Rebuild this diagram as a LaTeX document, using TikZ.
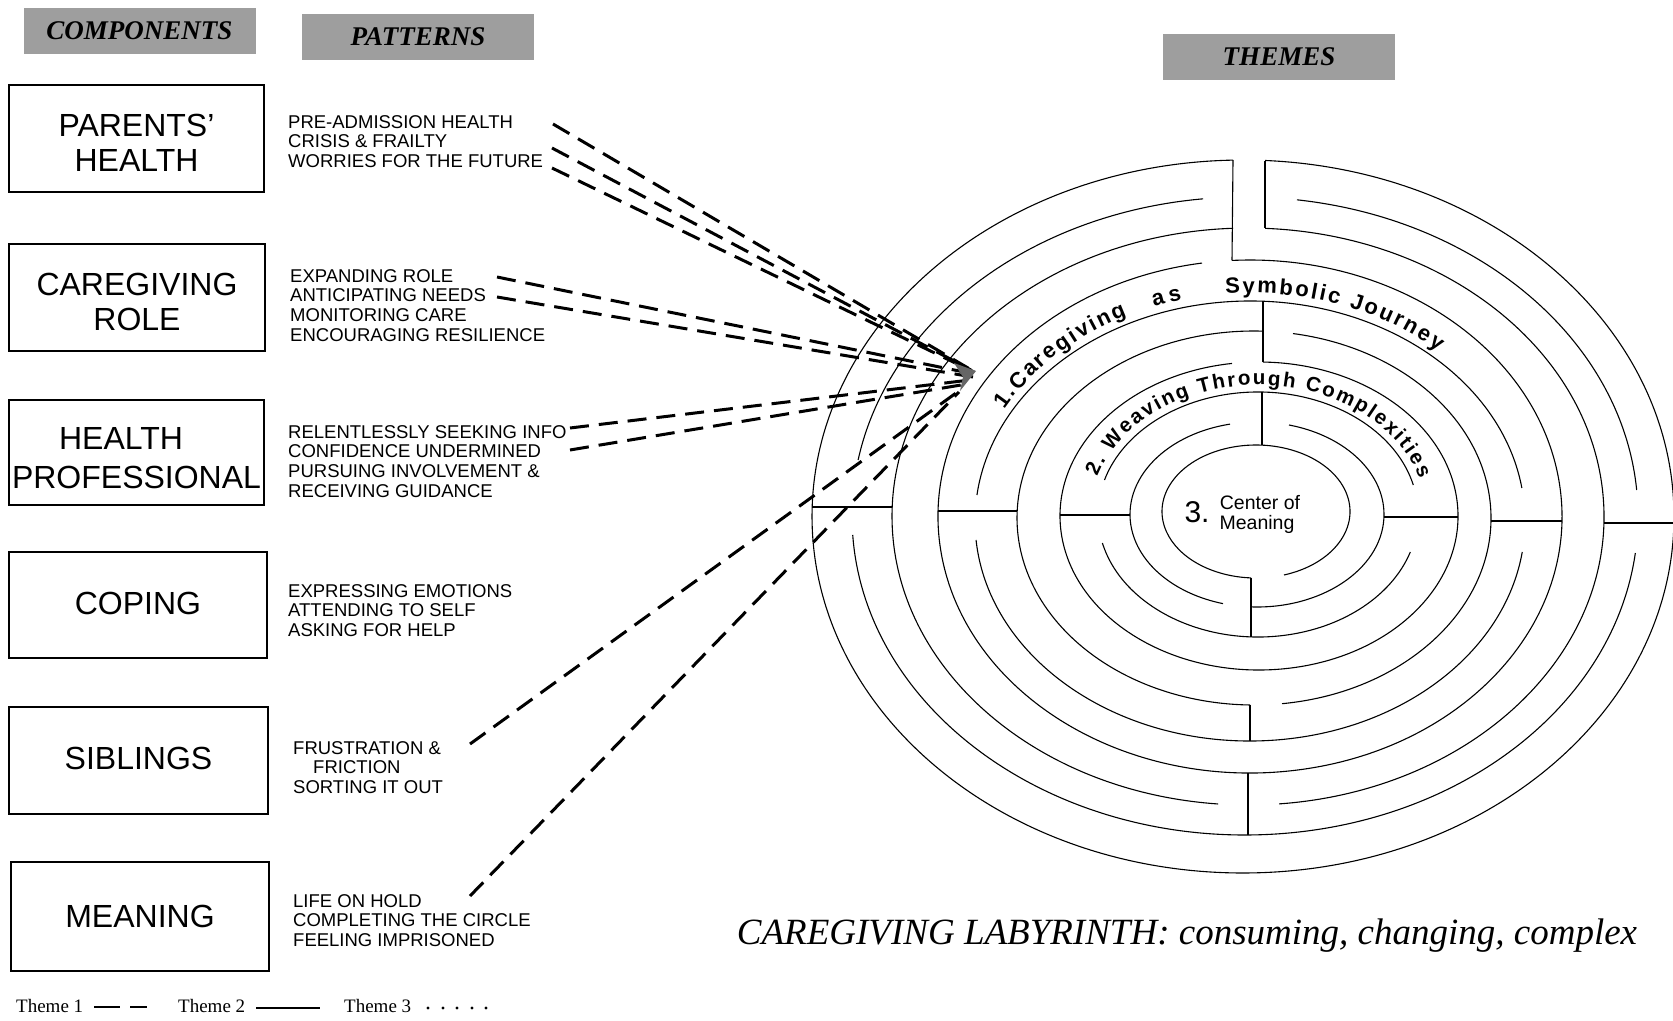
\documentclass[tikz,border=0pt]{standalone}
\usepackage{fontspec}
\setmainfont{Liberation Serif}
\newfontfamily\arial{Liberation Sans}
\usetikzlibrary{decorations.text}
\newcommand\ering[6]{\draw[ringline] (#1,-#2) ++(#5:#3pt and #4pt) arc[start angle=#5, end angle=#6, x radius=#3pt, y radius=#4pt];}
\begin{document}
\begin{tikzpicture}[x=1pt,y=1pt,
 ringline/.style={line width=1.1pt, black},
 compbox/.style={draw=black, line width=1.6pt, inner sep=0pt},
 comptext/.style={align=center, inner sep=0pt, font=\arial\fontsize{32}{35}\selectfont},
 hdr/.style={fill=black!38, minimum width=232pt, minimum height=46pt, inner sep=0pt, font=\fontsize{27}{27}\selectfont\bfseries\itshape},
 pat/.style={align=left, anchor=north west, inner sep=0pt, font=\arial\fontsize{18.5}{19.7}\selectfont},
 conn/.style={line width=3pt, dash pattern=on 19pt off 10pt},
 leg/.style={anchor=west, inner sep=0pt, font=\fontsize{19}{19}\selectfont},
 arctext/.style={decorate, decoration={text along path, text align=fit to path}},
]
\useasboundingbox (0,0) rectangle (1673,-1020);
\fill[white] (0,0) rectangle (1673,-1020);

% headers
\node[hdr] (hcomp) at (139.5,-31) {COMPONENTS};
\node[hdr] (hpat) at (418,-37) {PATTERNS};
\node[hdr] (hthm) at (1279,-57) {THEMES};

% component boxes
\node[compbox, minimum width=255pt, minimum height=107pt] (ph) at (136.5,-138.5) {};
\node[compbox, minimum width=256pt, minimum height=107pt] (cr) at (137,-297.5) {};
\node[compbox, minimum width=255pt, minimum height=105pt] (hp) at (136.5,-452.5) {};
\node[compbox, minimum width=258pt, minimum height=106pt] (co) at (138,-605) {};
\node[compbox, minimum width=259pt, minimum height=107pt] (sb) at (138.5,-760.5) {};
\node[compbox, minimum width=258pt, minimum height=109pt] (mn) at (140,-916.5) {};
\node[comptext] (phT) at (136.5,-142.5) {PARENTS’\\HEALTH};
\node[comptext] (crT) at (137,-302) {CAREGIVING\\ROLE};
\node[comptext, font=\arial\fontsize{32}{39}\selectfont] (hpT) at (136.5,-458) {HEALTH\hspace*{31pt}\\PROFESSIONAL};
\node[comptext] (coT) at (138,-603.5) {COPING};
\node[comptext] (sbT) at (138.5,-758) {SIBLINGS};
\node[comptext] (mnT) at (140,-916) {MEANING};

% patterns
\node[pat] (p1) at (288,-115) {PRE-ADMISSION HEALTH\\CRISIS \& FRAILTY\\WORRIES FOR THE FUTURE};
\node[pat] (p2) at (290,-269) {EXPANDING ROLE\\ANTICIPATING NEEDS\\MONITORING CARE\\ENCOURAGING RESILIENCE};
\node[pat] (p3) at (288,-425) {RELENTLESSLY SEEKING INFO\\CONFIDENCE UNDERMINED\\PURSUING INVOLVEMENT \&\\RECEIVING GUIDANCE};
\node[pat] (p4) at (288,-584) {EXPRESSING EMOTIONS\\ATTENDING TO SELF\\ASKING FOR HELP};
\node[pat] (p5) at (293,-741) {FRUSTRATION \&\\\hspace*{20pt}FRICTION\\SORTING IT OUT};
\node[pat] (p6) at (293,-894) {LIFE ON HOLD\\COMPLETING THE CIRCLE\\FEELING IMPRISONED};

% labyrinth rings
\ering{1243}{516.5}{431}{356.5}{91.33}{447.07}
\ering{1245}{516}{393}{319}{96.13}{169.89}
\ering{1245}{516}{393}{319}{183.41}{353.34}
\ering{1245}{516}{393}{319}{4.68}{82.40}
\ering{1248}{516.5}{356}{288.5}{92.41}{265.17}
\ering{1248}{516.5}{356}{288.5}{275.0}{447.26}
\ering{1250}{516.5}{312}{256.5}{98.85}{453.31}
\ering{1250}{521}{275}{220}{184.95}{351.90}
\ering{1250}{521}{275}{220}{8.63}{173.21}
\ering{1254}{518}{237}{187}{87.82}{269.03}
\ering{1254}{518}{237}{187}{276.79}{440.53}
\ering{1259}{516}{199}{154}{97.80}{448.85}
\ering{1258}{514.5}{160}{122.5}{193.45}{342.17}
\ering{1258}{514.5}{160}{122.5}{13.93}{163.64}
\ering{1257}{514.5}{127}{92.5}{102.27}{254.47}
\ering{1257}{514.5}{127}{92.5}{267.29}{435.41}
\ering{1256}{511.5}{94}{66.5}{287.33}{626.95}
% walls
\draw[ringline] (1233,-160.1) -- (1232,-260.4);
\draw[ringline] (1265,-160.5) -- (1265,-228.3);
\draw[ringline] (1263,-301.25) -- (1263,-362);
\draw[ringline] (1262,-392) -- (1262,-445.1);
\draw[ringline] (812.15,-507) -- (892.2,-507);
\draw[ringline] (938.07,-511) -- (1017.17,-511);
\draw[ringline] (1060,-515) -- (1130,-515);
\draw[ringline] (1383.95,-517) -- (1458,-517);
\draw[ringline] (1490.97,-521) -- (1561.95,-521);
\draw[ringline] (1603.91,-523) -- (1673.93,-523);
\draw[ringline] (1248,-773) -- (1248,-835);
\draw[ringline] (1250,-705) -- (1250,-741);
\draw[ringline] (1251,-577.9) -- (1251,-636.9);

% theme texts
\path[arctext, decoration={text={|\arial\bfseries\fontsize{22}{22}\selectfont|1.Caregiving}}] (1250,-519) ++(151:281pt and 226pt) arc[start angle=151, end angle=116, x radius=281pt, y radius=226pt];
\path[arctext, decoration={text={|\arial\bfseries\fontsize{22}{22}\selectfont|as}}] (1250,-519) ++(110:281pt and 226pt) arc[start angle=110, end angle=104, x radius=281pt, y radius=226pt];
\path[arctext, decoration={text={|\arial\bfseries\fontsize{22}{22}\selectfont|Symbolic Journey}}] (1250,-519) ++(95:281pt and 226pt) arc[start angle=95, end angle=48, x radius=281pt, y radius=226pt];
\path[arctext, decoration={text={|\arial\bfseries\fontsize{20.5}{20.5}\selectfont|2. Weaving Through Complexities}}] (1258,-515) ++(163:168pt and 130pt) arc[start angle=163, end angle=16, x radius=168pt, y radius=130pt];
\node[font=\arial\fontsize{30}{30}\selectfont, inner sep=0pt] (t3) at (1197,-512) {3.};
\node[font=\arial\fontsize{19.5}{19.5}\selectfont, inner sep=0pt] (t3a) at (1260,-503) {Center of};
\node[font=\arial\fontsize{19.5}{19.5}\selectfont, inner sep=0pt] (t3b) at (1257,-524) {Meaning};

% dashed connectors
\coordinate (s1) at (553,-124); \coordinate (e1) at (968,-368);
\coordinate (s2) at (552,-148); \coordinate (e2) at (971,-370);
\coordinate (s3) at (552,-168); \coordinate (e3) at (974,-372);
\coordinate (s4) at (497,-277); \coordinate (e4) at (974,-374);
\coordinate (s5) at (497,-297); \coordinate (e5) at (973,-377);
\coordinate (s6) at (570,-428); \coordinate (e6) at (970,-380);
\coordinate (s7) at (570,-450); \coordinate (e7) at (967,-384);
\coordinate (s8) at (470,-744); \coordinate (e8) at (963,-388);
\coordinate (s9) at (470,-896); \coordinate (e9) at (959,-392);
\foreach \i in {1,...,9} {\draw[conn] (s\i) -- (e\i);}
\fill[black!60] (954,-363) -- (976,-371) -- (960,-391) -- (963,-377) -- cycle;

% caption
\node[anchor=base, inner sep=0pt, font=\fontsize{37}{37}\selectfont\itshape] (cap) at (1187,-944) {CAREGIVING LABYRINTH: consuming, changing, complex};

% legend
\node[leg] (l1) at (16,-1006) {Theme 1};
\draw[line width=2.5pt] (94,-1007) -- (120,-1007) (130,-1007) -- (147,-1007);
\node[leg] (l2) at (178,-1006) {Theme 2};
\draw[line width=2.5pt] (256,-1008) -- (320,-1008);
\node[leg] (l3) at (344,-1006) {Theme 3};
\foreach \x in {428,443,457,472,486} {\fill (\x,-1008) circle[radius=1.7pt];}
\end{tikzpicture}
\end{document}
